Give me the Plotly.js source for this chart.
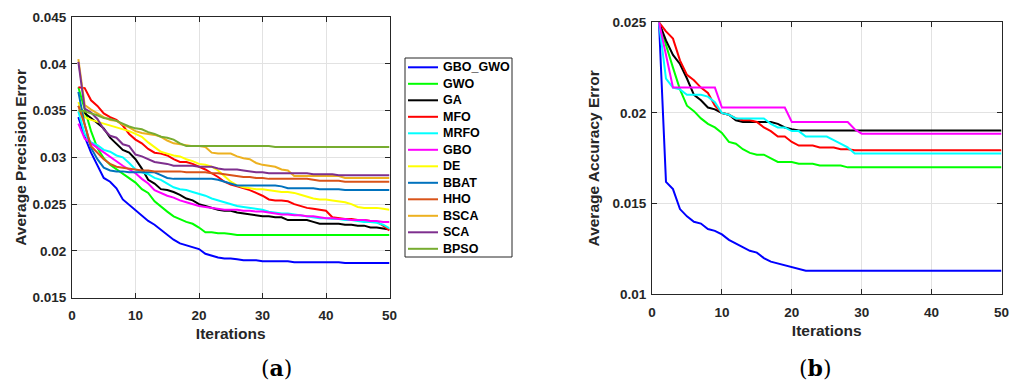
<!DOCTYPE html>
<html>
<head>
<meta charset="utf-8">
<script src="https://cdn.plot.ly/plotly-3.0.1.min.js"></script>
<style>html,body{margin:0;padding:0;background:#fff;}#chart{width:1019px;height:381px;}</style>
</head>
<body>
<div id="chart"></div>
<script>
const iterations = [1,2,3,4,5,6,7,8,9,10,11,12,13,14,15,16,17,18,19,20,21,22,23,24,25,26,27,28,29,30,31,32,33,34,35,36,37,38,39,40,41,42,43,44,45,46,47,48,49,50];

const seriesNames = ["GBO_GWO","GWO","GA","MFO","MRFO","GBO","DE","BBAT","HHO","BSCA","SCA","BPSO"];
const seriesColors = ["#0000FF","#00FF00","#000000","#FF0000","#00FFFF","#FF00FF","#FFFF00","#0072BD","#D95319","#EDB120","#7E2F8E","#77AC30"];

// (a) Average Precision Error
const P_GBO_GWO = [0.0343,0.0322,0.0305,0.0292,0.0278,0.0274,0.0267,0.0255,0.0249,0.0244,0.0238,0.0232,0.0228,0.0223,0.0217,0.0212,0.0208,0.0206,0.0204,0.0202,0.0197,0.0195,0.0193,0.0192,0.0192,0.0191,0.0190,0.0190,0.0190,0.0189,0.0189,0.0189,0.0189,0.0189,0.0188,0.0188,0.0188,0.0188,0.0188,0.0188,0.0188,0.0188,0.0187,0.0187,0.0187,0.0187,0.0187,0.0187,0.0187,0.0187];
const P_GWO = [0.0375,0.0350,0.0328,0.0310,0.0299,0.0292,0.0287,0.0283,0.0278,0.0273,0.0266,0.0262,0.0253,0.0247,0.0242,0.0237,0.0234,0.0231,0.0229,0.0225,0.0220,0.0220,0.0219,0.0219,0.0218,0.0217,0.0217,0.0217,0.0217,0.0217,0.0217,0.0217,0.0217,0.0217,0.0217,0.0217,0.0217,0.0217,0.0217,0.0217,0.0217,0.0217,0.0217,0.0217,0.0217,0.0217,0.0217,0.0217,0.0217,0.0217];
const P_GA = [0.0355,0.0347,0.0342,0.0336,0.0331,0.0321,0.0314,0.0308,0.0305,0.0298,0.0288,0.0276,0.0272,0.0266,0.0265,0.0263,0.0260,0.0256,0.0254,0.0250,0.0248,0.0246,0.0244,0.0243,0.0243,0.0241,0.0240,0.0239,0.0238,0.0237,0.0237,0.0236,0.0236,0.0233,0.0233,0.0233,0.0233,0.0231,0.0229,0.0229,0.0229,0.0229,0.0228,0.0228,0.0227,0.0227,0.0225,0.0225,0.0224,0.0223];
const P_MFO = [0.0375,0.0374,0.0361,0.0355,0.0347,0.0343,0.0340,0.0334,0.0325,0.0319,0.0315,0.0309,0.0305,0.0304,0.0302,0.0298,0.0295,0.0295,0.0293,0.0290,0.0287,0.0283,0.0279,0.0274,0.0271,0.0269,0.0267,0.0265,0.0262,0.0259,0.0255,0.0254,0.0254,0.0253,0.0250,0.0248,0.0246,0.0245,0.0244,0.0243,0.0236,0.0235,0.0234,0.0234,0.0233,0.0233,0.0232,0.0231,0.0227,0.0222];
const P_MRFO = [0.0349,0.0325,0.0316,0.0313,0.0308,0.0306,0.0302,0.0300,0.0294,0.0287,0.0284,0.0282,0.0278,0.0276,0.0272,0.0268,0.0266,0.0265,0.0263,0.0261,0.0259,0.0256,0.0254,0.0252,0.0250,0.0248,0.0247,0.0246,0.0245,0.0244,0.0242,0.0241,0.0240,0.0240,0.0239,0.0238,0.0237,0.0236,0.0235,0.0235,0.0234,0.0234,0.0233,0.0233,0.0232,0.0231,0.0231,0.0230,0.0228,0.0224];
const P_GBO = [0.0336,0.0320,0.0315,0.0310,0.0305,0.0300,0.0295,0.0291,0.0287,0.0283,0.0277,0.0272,0.0265,0.0262,0.0259,0.0257,0.0254,0.0252,0.0250,0.0248,0.0247,0.0246,0.0245,0.0244,0.0244,0.0244,0.0243,0.0243,0.0242,0.0242,0.0241,0.0240,0.0239,0.0239,0.0238,0.0238,0.0237,0.0237,0.0236,0.0235,0.0235,0.0234,0.0234,0.0233,0.0233,0.0233,0.0232,0.0232,0.0231,0.0231];
const P_DE = [0.0359,0.0343,0.0340,0.0338,0.0336,0.0334,0.0332,0.0330,0.0328,0.0325,0.0322,0.0316,0.0311,0.0306,0.0304,0.0302,0.0301,0.0298,0.0296,0.0293,0.0292,0.0290,0.0286,0.0280,0.0274,0.0270,0.0268,0.0267,0.0266,0.0266,0.0265,0.0264,0.0263,0.0263,0.0262,0.0260,0.0258,0.0256,0.0255,0.0255,0.0254,0.0253,0.0252,0.0250,0.0247,0.0246,0.0246,0.0246,0.0245,0.0244];
const P_BBAT = [0.0370,0.0335,0.0310,0.0298,0.0289,0.0286,0.0285,0.0285,0.0284,0.0284,0.0284,0.0284,0.0284,0.0281,0.0278,0.0277,0.0277,0.0277,0.0277,0.0277,0.0277,0.0277,0.0276,0.0274,0.0272,0.0270,0.0270,0.0270,0.0270,0.0270,0.0270,0.0270,0.0269,0.0267,0.0267,0.0267,0.0267,0.0267,0.0266,0.0266,0.0266,0.0266,0.0265,0.0265,0.0265,0.0265,0.0265,0.0265,0.0265,0.0265];
const P_HHO = [0.0355,0.0335,0.0312,0.0305,0.0298,0.0293,0.0290,0.0289,0.0288,0.0287,0.0286,0.0286,0.0285,0.0285,0.0285,0.0285,0.0285,0.0284,0.0284,0.0284,0.0284,0.0283,0.0283,0.0282,0.0281,0.0280,0.0279,0.0279,0.0278,0.0278,0.0277,0.0277,0.0277,0.0277,0.0277,0.0277,0.0277,0.0276,0.0275,0.0275,0.0275,0.0275,0.0274,0.0274,0.0274,0.0274,0.0274,0.0274,0.0274,0.0274];
const P_BSCA = [0.0405,0.0356,0.0351,0.0347,0.0343,0.0340,0.0339,0.0335,0.0332,0.0328,0.0326,0.0325,0.0324,0.0322,0.0318,0.0315,0.0314,0.0313,0.0312,0.0312,0.0311,0.0305,0.0304,0.0304,0.0304,0.0301,0.0299,0.0298,0.0294,0.0292,0.0291,0.0290,0.0287,0.0286,0.0280,0.0280,0.0280,0.0280,0.0280,0.0280,0.0280,0.0280,0.0278,0.0278,0.0278,0.0278,0.0278,0.0278,0.0278,0.0278];
const P_SCA = [0.0402,0.0352,0.0348,0.0341,0.0330,0.0323,0.0321,0.0314,0.0312,0.0303,0.0301,0.0298,0.0295,0.0294,0.0293,0.0291,0.0291,0.0291,0.0291,0.0290,0.0290,0.0290,0.0288,0.0287,0.0287,0.0287,0.0286,0.0285,0.0284,0.0284,0.0283,0.0283,0.0283,0.0283,0.0283,0.0283,0.0283,0.0282,0.0282,0.0282,0.0282,0.0281,0.0281,0.0281,0.0281,0.0281,0.0281,0.0281,0.0281,0.0281];
const P_BPSO = [0.0350,0.0349,0.0347,0.0345,0.0342,0.0341,0.0339,0.0336,0.0333,0.0331,0.0330,0.0327,0.0325,0.0322,0.0321,0.0319,0.0315,0.0312,0.0312,0.0312,0.0312,0.0312,0.0312,0.0312,0.0312,0.0312,0.0312,0.0312,0.0312,0.0312,0.0312,0.0311,0.0311,0.0311,0.0311,0.0311,0.0311,0.0311,0.0311,0.0311,0.0311,0.0311,0.0311,0.0311,0.0311,0.0311,0.0311,0.0311,0.0311,0.0311];

// (b) Average Accuracy Error
const A_GBO_GWO = [0.0250,0.0162,0.0158,0.0147,0.0143,0.0140,0.0139,0.0136,0.0135,0.0133,0.0130,0.0128,0.0126,0.0124,0.0123,0.0120,0.0118,0.0117,0.0116,0.0115,0.0114,0.0113,0.0113,0.0113,0.0113,0.0113,0.0113,0.0113,0.0113,0.0113,0.0113,0.0113,0.0113,0.0113,0.0113,0.0113,0.0113,0.0113,0.0113,0.0113,0.0113,0.0113,0.0113,0.0113,0.0113,0.0113,0.0113,0.0113,0.0113,0.0113];
const A_GWO = [0.0250,0.0237,0.0225,0.0213,0.0204,0.0201,0.0197,0.0194,0.0192,0.0189,0.0184,0.0183,0.0180,0.0178,0.0177,0.0177,0.0175,0.0173,0.0173,0.0173,0.0172,0.0172,0.0172,0.0171,0.0171,0.0171,0.0171,0.0170,0.0170,0.0170,0.0170,0.0170,0.0170,0.0170,0.0170,0.0170,0.0170,0.0170,0.0170,0.0170,0.0170,0.0170,0.0170,0.0170,0.0170,0.0170,0.0170,0.0170,0.0170,0.0170];
const A_GA = [0.0250,0.0240,0.0232,0.0227,0.0219,0.0210,0.0207,0.0203,0.0202,0.0200,0.0199,0.0196,0.0195,0.0195,0.0195,0.0195,0.0195,0.0194,0.0192,0.0191,0.01903,0.01903,0.01903,0.01903,0.01903,0.01903,0.01903,0.01903,0.01903,0.01903,0.01903,0.01903,0.01903,0.01903,0.01903,0.01903,0.01903,0.01903,0.01903,0.01903,0.01903,0.01903,0.01903,0.01903,0.01903,0.01903,0.01903,0.01903,0.01903,0.01903];
const A_MFO = [0.0250,0.0245,0.0241,0.0229,0.0221,0.0218,0.0214,0.0211,0.0204,0.0200,0.0199,0.0197,0.0196,0.0196,0.0195,0.0192,0.0190,0.0187,0.0187,0.0184,0.0182,0.0182,0.0182,0.0181,0.0181,0.0181,0.0180,0.0180,0.01795,0.01795,0.01795,0.01795,0.01795,0.01795,0.01795,0.01795,0.01795,0.01795,0.01795,0.01795,0.01795,0.01795,0.01795,0.01795,0.01795,0.01795,0.01795,0.01795,0.01795,0.01795];
const A_MRFO = [0.0250,0.0219,0.0214,0.0213,0.0210,0.0210,0.0210,0.0209,0.0206,0.0200,0.0199,0.0197,0.0197,0.0197,0.0197,0.0197,0.0194,0.0192,0.0192,0.0190,0.0190,0.0187,0.0187,0.0187,0.0187,0.0185,0.0183,0.0181,0.01776,0.01776,0.01776,0.01776,0.01776,0.01776,0.01776,0.01776,0.01776,0.01776,0.01776,0.01776,0.01776,0.01776,0.01776,0.01776,0.01776,0.01776,0.01776,0.01776,0.01776,0.01776];
const A_GBO = [0.0250,0.0231,0.0214,0.0214,0.0214,0.0214,0.0214,0.0214,0.0214,0.0203,0.0203,0.0203,0.0203,0.0203,0.0203,0.0203,0.0203,0.0203,0.0203,0.0195,0.0195,0.0195,0.0195,0.0195,0.0195,0.0195,0.0195,0.0195,0.0191,0.01886,0.01886,0.01886,0.01886,0.01886,0.01886,0.01886,0.01886,0.01886,0.01886,0.01886,0.01886,0.01886,0.01886,0.01886,0.01886,0.01886,0.01886,0.01886,0.01886,0.01886];

const xTickVals = [0,10,20,30,40,50];
const yTickValsA = [0.015,0.02,0.025,0.03,0.035,0.04,0.045];
const yTickTextA = ["0.015","0.02","0.025","0.03","0.035","0.04","0.045"];
const yTickValsB = [0.01,0.015,0.02,0.025];
const yTickTextB = ["0.01","0.015","0.02","0.025"];
const panelLabels = ["a","b"];
const xTitle = "Iterations";
const yTitleA = "Average Precision Error";
const yTitleB = "Average Accuracy Error";

const precisionSeries = [P_GBO_GWO,P_GWO,P_GA,P_MFO,P_MRFO,P_GBO,P_DE,P_BBAT,P_HHO,P_BSCA,P_SCA,P_BPSO];
const accuracySeries = [A_GBO_GWO,A_GWO,A_GA,A_MFO,A_MRFO,A_GBO];

const W = 1019, H = 381;
const px = v => v / W;
const py = v => 1 - v / H;

const traces = [];
precisionSeries.forEach((ys, i) => {
  traces.push({x: iterations, y: ys, type: 'scatter', mode: 'lines', name: seriesNames[i],
    line: {color: seriesColors[i], width: 2}, xaxis: 'x', yaxis: 'y', showlegend: false});
});
accuracySeries.forEach((ys, i) => {
  traces.push({x: iterations, y: ys, type: 'scatter', mode: 'lines', name: seriesNames[i],
    line: {color: seriesColors[i], width: 2}, xaxis: 'x2', yaxis: 'y2', showlegend: false});
});

const FONT = 'Liberation Sans, Arial, sans-serif';
const AX = '#262626';
const tickFont = {family: FONT, size: 13.5, weight: 'bold', color: AX};
const titleFont = {family: FONT, size: 15.5, weight: 'bold', color: AX};

function xAxis(domain) {
  return {domain: domain, range: [0, 50], tickvals: xTickVals, ticks: 'inside', ticklen: 5, tickcolor: AX,
    showline: true, linecolor: AX, linewidth: 1, mirror: 'ticks', showgrid: true, gridcolor: '#e2e2e2',
    zeroline: false, tickfont: tickFont, ticklabelstandoff: 5,
    title: {text: xTitle, font: titleFont, standoff: 6}, fixedrange: true};
}
function yAxis(domain, range, vals, texts, title, anchor, standoff) {
  return {domain: domain, range: range, tickvals: vals, ticktext: texts, ticks: 'inside', ticklen: 5, tickcolor: AX,
    showline: true, linecolor: AX, linewidth: 1, mirror: 'ticks', showgrid: true, gridcolor: '#e2e2e2',
    zeroline: false, tickfont: tickFont, ticklabelstandoff: 2,
    title: {text: title, font: titleFont, standoff: standoff}, anchor: anchor, fixedrange: true};
}

// custom legend (MATLAB-style compact box)
const shapes = [];
const annotations = [];
const legL = 405, legR = 512, legT = 58, legB = 257, row0 = 67.3, rowH = 16.5;
shapes.push({type: 'rect', xref: 'paper', yref: 'paper', x0: px(legL), x1: px(legR), y0: py(legB), y1: py(legT),
  line: {color: AX, width: 1}, fillcolor: '#ffffff'});
seriesNames.forEach((nm, i) => {
  const yy = py(row0 + i * rowH);
  shapes.push({type: 'line', xref: 'paper', yref: 'paper', x0: px(408), x1: px(438), y0: yy, y1: yy,
    line: {color: seriesColors[i], width: 2}});
  annotations.push({xref: 'paper', yref: 'paper', x: px(441), y: yy, xanchor: 'left', yanchor: 'middle',
    text: nm, showarrow: false, font: {family: FONT, size: 12.5, weight: 'bold', color: '#000'}});
});
annotations.push({xref: 'paper', yref: 'paper', x: px(276), y: py(368), xanchor: 'center', yanchor: 'middle',
  text: '(<b>' + panelLabels[0] + '</b>)', showarrow: false, font: {family: 'DejaVu Serif, serif', size: 22, color: '#000'}});
annotations.push({xref: 'paper', yref: 'paper', x: px(815), y: py(368), xanchor: 'center', yanchor: 'middle',
  text: '(<b>' + panelLabels[1] + '</b>)', showarrow: false, font: {family: 'DejaVu Serif, serif', size: 22, color: '#000'}});

const layout = {
  width: W, height: H, margin: {l: 0, r: 0, t: 0, b: 0}, paper_bgcolor: '#fff', plot_bgcolor: '#fff',
  showlegend: false,
  xaxis: Object.assign(xAxis([px(72), px(389.5)]), {anchor: 'y'}),
  yaxis: yAxis([py(297.7), py(17)], [0.015, 0.045], yTickValsA, yTickTextA, yTitleA, 'x', 2),
  xaxis2: Object.assign(xAxis([px(652), px(1001.5)]), {anchor: 'y2'}),
  yaxis2: yAxis([py(294.3), py(22.3)], [0.01, 0.025], yTickValsB, yTickTextB, yTitleB, 'x2', 9),
  shapes: shapes, annotations: annotations
};

Plotly.newPlot('chart', traces, layout, {displayModeBar: false, staticPlot: true});
</script>
</body>
</html>
